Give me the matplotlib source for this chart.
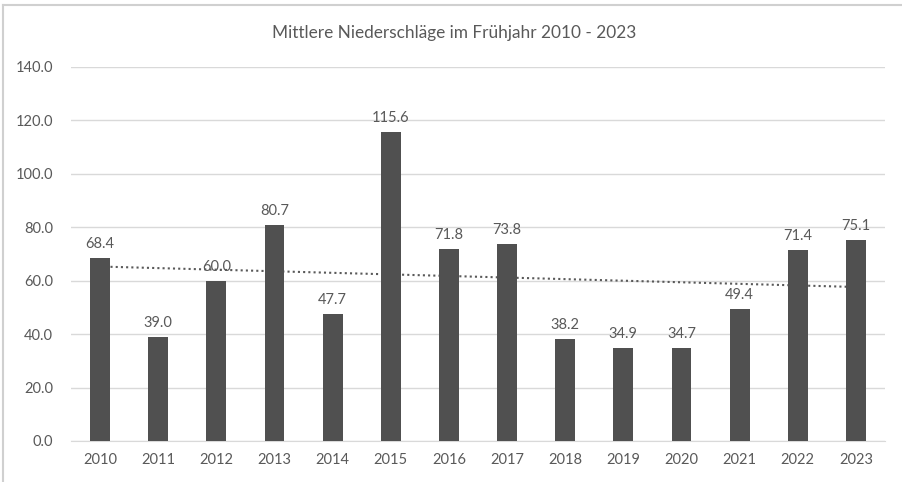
import numpy as np
import matplotlib.pyplot as plt
from matplotlib.lines import Line2D

years = [2010, 2011, 2012, 2013, 2014, 2015, 2016, 2017, 2018, 2019, 2020, 2021, 2022, 2023]
niederschlag = [68.4, 39.0, 60.0, 80.7, 47.7, 115.6, 71.8, 73.8, 38.2, 34.9, 34.7, 49.4, 71.4, 75.1]
title = "Mittlere Niederschläge im Frühjahr 2010 - 2023"

plt.rcParams['font.family'] = ['Lato', 'DejaVu Sans']
text_col = '#595959'
grid_col = '#d9d9d9'

fig = plt.figure(figsize=(9.03, 4.82), dpi=100)
ax = fig.add_axes([71/903, 1-441/482, (885-71)/903, (441-67)/482])

x = np.arange(len(years))
bars = ax.bar(x, niederschlag, width=0.34, color='#505050', zorder=3)

# linear trendline like Excel
m, b = np.polyfit(x, niederschlag, 1)
ax.plot(x, m*x + b, linestyle=(0, (1, 1.5)), color=text_col, lw=1.5, zorder=2)

for xi, v in zip(x, niederschlag):
    ax.annotate(f"{v:.1f}", (xi, v), xytext=(0, 5), textcoords='offset points',
                ha='center', va='bottom', fontsize=10.5, color=text_col, zorder=4)

ax.set_xlim(-0.5, len(years)-0.5)
ax.set_ylim(0, 140)
ax.set_yticks(np.arange(0, 141, 20))
ax.set_yticklabels([f"{t:.1f}" for t in np.arange(0, 141, 20)])
ax.set_xticks(x)
ax.set_xticklabels([str(y) for y in years])
ax.tick_params(axis='both', length=0, colors=text_col, labelsize=10.5)
ax.tick_params(axis='y', pad=13)
ax.tick_params(axis='x', pad=9)
ax.grid(axis='y', color=grid_col, lw=1, zorder=0)
ax.set_axisbelow(True)
for s in ['top', 'right', 'left']:
    ax.spines[s].set_visible(False)
ax.spines['bottom'].set_color(grid_col)

fig.text(0.5025, 1-33/482, title, ha='center', va='center', fontsize=12.4, color=text_col)

# frame of the chart area
fig.add_artist(Line2D([3/903, 1], [1-5/482, 1-5/482], color='#d0d0d0', lw=1.5))
fig.add_artist(Line2D([3/903, 3/903], [0, 1-5/482], color='#d0d0d0', lw=1.5))

fig.savefig('out.png', dpi=100)
